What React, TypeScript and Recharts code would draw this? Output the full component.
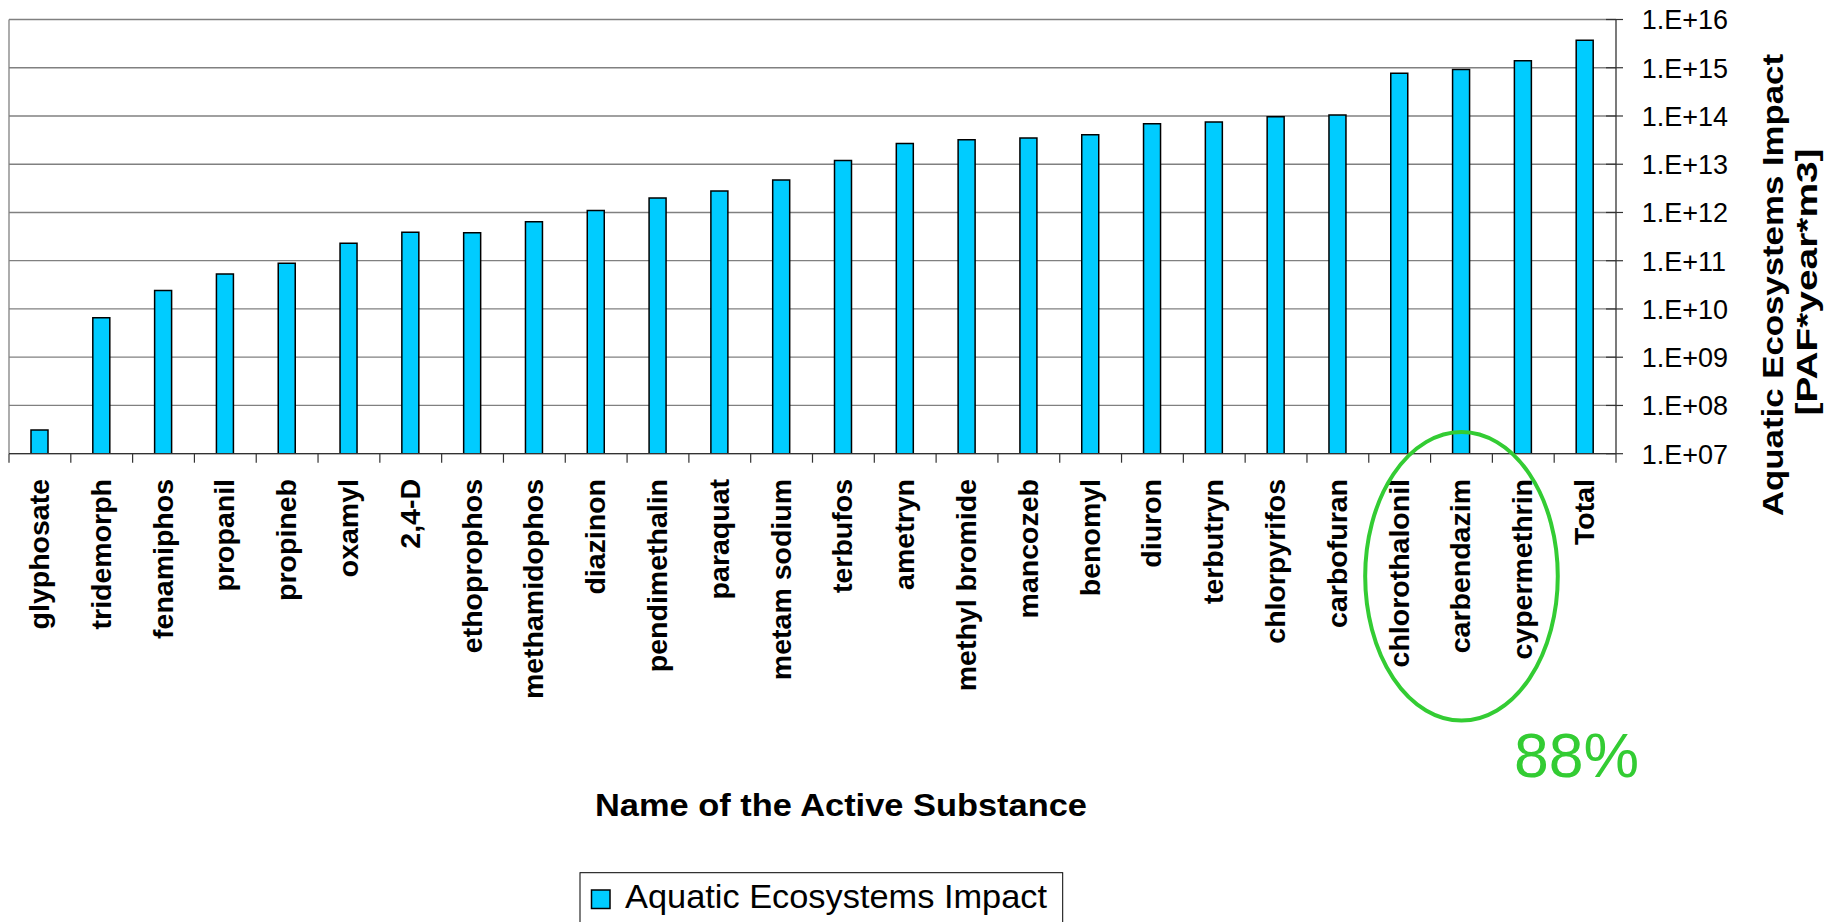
import React from 'react';
import { BarChart, Bar, XAxis, YAxis, CartesianGrid } from 'recharts';

// Active substances, ordered by impact, with the summed total last
const categories = [
  'glyphosate', 'tridemorph', 'fenamiphos', 'propanil', 'propineb', 'oxamyl',
  '2,4-D', 'ethoprophos', 'methamidophos', 'diazinon', 'pendimethalin', 'paraquat',
  'metam sodium', 'terbufos', 'ametryn', 'methyl bromide', 'mancozeb', 'benomyl',
  'diuron', 'terbutryn', 'chlorpyrifos', 'carbofuran', 'chlorothalonil',
  'carbendazim', 'cypermethrin', 'Total',
];

// Aquatic ecosystems impact [PAF*year*m3]
const impactValues = [
  3.1e7, 6.6e9, 2.4e10, 5.3e10, 8.9e10, 2.3e11,
  3.9e11, 3.8e11, 6.4e11, 1.1e12, 2.0e12, 2.8e12,
  4.7e12, 1.2e13, 2.7e13, 3.2e13, 3.5e13, 4.1e13,
  6.9e13, 7.5e13, 9.6e13, 1.05e14, 7.7e14,
  9.2e14, 1.4e15, 3.7e15,
];

const yTicks = [1e7, 1e8, 1e9, 1e10, 1e11, 1e12, 1e13, 1e14, 1e15, 1e16];
const yTickLabels = [
  '1.E+07', '1.E+08', '1.E+09', '1.E+10', '1.E+11',
  '1.E+12', '1.E+13', '1.E+14', '1.E+15', '1.E+16',
];

const seriesName = 'Aquatic Ecosystems Impact';
const highlighted = ['chlorothalonil', 'carbendazim', 'cypermethrin'];
const highlightShare = '88%';

const data = categories.map((name, i) => ({ name, impact: impactValues[i] }));

// Layout
const W = 1835;
const H = 922;
const PLOT_LEFT = 9;
const PLOT_RIGHT = 1616;
const PLOT_TOP = 19.5;
const PLOT_BOTTOM = 453.7;
const BAND = (PLOT_RIGHT - PLOT_LEFT) / categories.length;
const LABEL_TOP = 479;

const FONT = '"Liberation Sans", Arial, Helvetica, sans-serif';
const BAR_FILL = '#00CCFF';
const GREEN = '#33CC33';
const AXIS = '#333333';

const CategoryTick = (props: any) => {
  const { x, payload, index } = props;
  const left = x - BAND / 2;
  const right = x + BAND / 2;
  return (
    <g>
      <line x1={left} x2={left} y1={PLOT_BOTTOM} y2={PLOT_BOTTOM + 9} stroke={AXIS} strokeWidth={1.2} />
      {index === categories.length - 1 && (
        <line x1={right} x2={right} y1={PLOT_BOTTOM} y2={PLOT_BOTTOM + 9} stroke={AXIS} strokeWidth={1.2} />
      )}
      <text
        transform={`rotate(-90 ${x} ${LABEL_TOP})`}
        x={x}
        y={LABEL_TOP}
        dy={9}
        textAnchor="end"
        fontFamily={FONT}
        fontWeight="bold"
        fontSize={28.5}
        fill="#000"
      >
        {payload.value}
      </text>
    </g>
  );
};

const ValueTick = (props: any) => {
  const { y, payload } = props;
  const idx = yTicks.indexOf(payload.value);
  return (
    <g>
      <line x1={PLOT_RIGHT - 10} x2={PLOT_RIGHT + 7} y1={y} y2={y} stroke={AXIS} strokeWidth={1.2} />
      <text
        x={PLOT_RIGHT + 25.7}
        y={y}
        dy={9.8}
        textAnchor="start"
        fontFamily={FONT}
        fontSize={27}
        fill="#000"
      >
        {idx >= 0 ? yTickLabels[idx] : ''}
      </text>
    </g>
  );
};

const Overlay = () => {
  const mid = categories.indexOf(highlighted[1]);
  const cx = PLOT_LEFT + (mid + 0.5) * BAND;
  return (
    <svg
      width={W}
      height={H}
      style={{ position: 'absolute', left: 0, top: 0, pointerEvents: 'none', overflow: 'visible' }}
    >
      {/* value axis title, two lines */}
      <text
        transform="rotate(-90 1782.5 285)"
        x={1782.5}
        y={285}
        textAnchor="middle"
        fontFamily={FONT}
        fontWeight="bold"
        fontSize={30}
        textLength={462}
        lengthAdjust="spacingAndGlyphs"
        fill="#000"
      >
        Aquatic Ecosystems Impact
      </text>
      <text
        transform="rotate(-90 1817 282)"
        x={1817}
        y={282}
        textAnchor="middle"
        fontFamily={FONT}
        fontWeight="bold"
        fontSize={30}
        textLength={267}
        lengthAdjust="spacingAndGlyphs"
        fill="#000"
      >
        [PAF*year*m3]
      </text>

      {/* category axis title */}
      <text
        x={841}
        y={816}
        textAnchor="middle"
        fontFamily={FONT}
        fontWeight="bold"
        fontSize={32}
        textLength={492}
        lengthAdjust="spacingAndGlyphs"
        fill="#000"
      >
        Name of the Active Substance
      </text>

      {/* highlighted group */}
      <ellipse cx={cx} cy={576.3} rx={96.3} ry={144.3} fill="none" stroke={GREEN} strokeWidth={4} />
      <text x={1514} y={776.7} fontFamily={FONT} fontSize={62.5} fill={GREEN}>
        {highlightShare}
      </text>

      {/* legend */}
      <rect x={580} y={872.7} width={482.7} height={60} fill="#fff" stroke="#000" strokeWidth={1} />
      <rect x={591.5} y={890} width={18.5} height={18.5} fill={BAR_FILL} stroke="#000" strokeWidth={1.5} />
      <text
        x={625}
        y={908.3}
        fontFamily={FONT}
        fontSize={33}
        textLength={422}
        lengthAdjust="spacingAndGlyphs"
        fill="#000"
      >
        {seriesName}
      </text>
    </svg>
  );
};

export default function App() {
  return (
    <div style={{ position: 'absolute', left: 0, top: 0, width: W, height: H, background: '#fff', overflow: 'hidden' }}>
      <BarChart
        width={W}
        height={H}
        data={data}
        margin={{ top: PLOT_TOP, right: 0, bottom: 0, left: PLOT_LEFT }}
      >
        <CartesianGrid
          stroke="#808080"
          strokeWidth={1.3}
          vertical={true}
          verticalCoordinatesGenerator={() => [PLOT_LEFT]}
        />
        <XAxis
          dataKey="name"
          type="category"
          height={H - PLOT_BOTTOM}
          interval={0}
          tickLine={false}
          axisLine={{ stroke: AXIS, strokeWidth: 1.3 }}
          tick={<CategoryTick />}
        />
        <YAxis
          orientation="right"
          type="number"
          scale="log"
          domain={[1e7, 1e16]}
          ticks={yTicks}
          interval={0}
          allowDataOverflow
          width={W - PLOT_RIGHT}
          tickLine={false}
          axisLine={{ stroke: AXIS, strokeWidth: 1.3 }}
          tick={<ValueTick />}
        />
        <Bar
          dataKey="impact"
          name={seriesName}
          fill={BAR_FILL}
          stroke="#000"
          strokeWidth={1.5}
          barSize={17}
          isAnimationActive={false}
        />
      </BarChart>
      <Overlay />
    </div>
  );
}
